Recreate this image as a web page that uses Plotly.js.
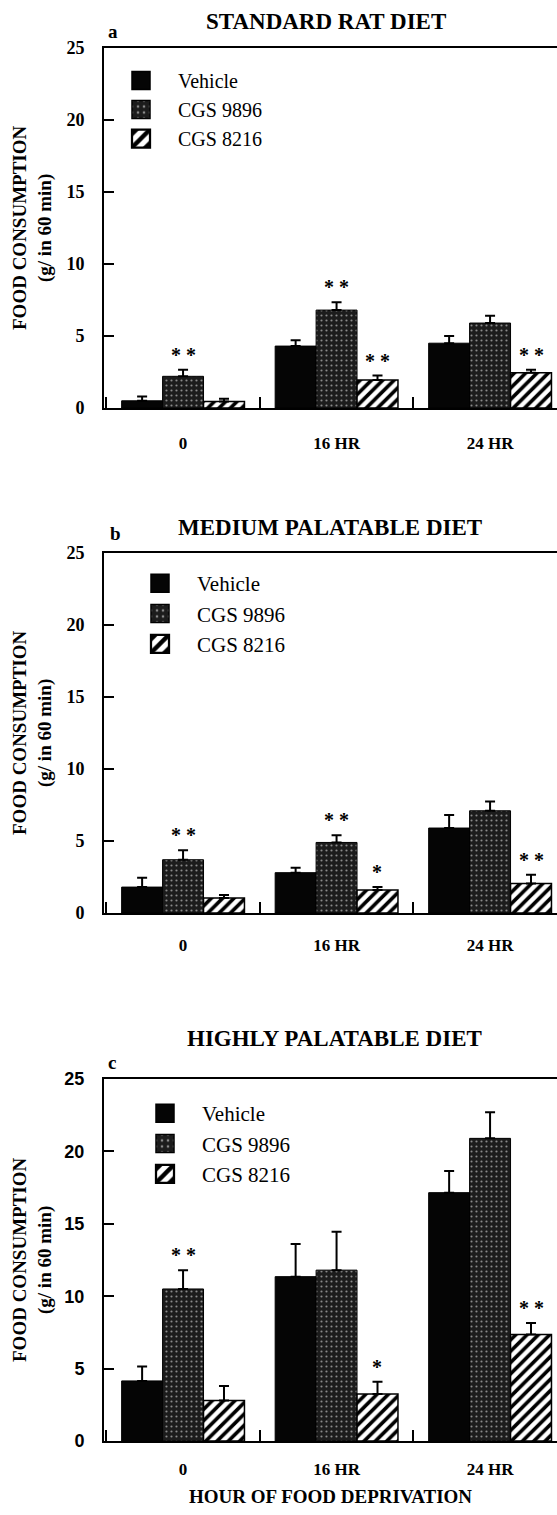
<!DOCTYPE html>
<html>
<head>
<meta charset="utf-8">
<script src="https://cdn.plot.ly/plotly-3.0.1.min.js"></script>
<style>
html,body{margin:0;padding:0;background:#fff;}
#chart{width:557px;height:1515px;}
#chart .legendtext{font-family:"Liberation Serif",serif !important;}
</style>
</head>
<body>
<div id="chart"></div>
<script>
// ---- data ----
const categories = ['0', '16 HR', '24 HR'];
const seriesNames = ['Vehicle', 'CGS 9896', 'CGS 8216'];
const panelTitles = ['STANDARD RAT DIET', 'MEDIUM PALATABLE DIET', 'HIGHLY PALATABLE DIET'];
const panelLetters = ['a', 'b', 'c'];
const yTickVals = [0, 5, 10, 15, 20, 25];
const yTitle = 'FOOD CONSUMPTION<br>(g/ in 60 min)';
const xTitle = 'HOUR OF FOOD DEPRIVATION';

// panel a : standard rat diet
const aVehicle = [0.5, 4.3, 4.5];
const aVehicleErr = [0.3, 0.4, 0.5];
const a9896 = [2.2, 6.8, 5.9];
const a9896Err = [0.45, 0.55, 0.5];
const a8216 = [0.45, 1.95, 2.45];
const a8216Err = [0.2, 0.3, 0.2];
const aSigVehicle = ['', '', ''];
const aSig9896 = ['**', '**', ''];
const aSig8216 = ['', '**', '**'];

// panel b : medium palatable diet
const bVehicle = [1.8, 2.8, 5.9];
const bVehicleErr = [0.65, 0.35, 0.9];
const b9896 = [3.7, 4.9, 7.1];
const b9896Err = [0.65, 0.5, 0.65];
const b8216 = [1.05, 1.6, 2.05];
const b8216Err = [0.2, 0.2, 0.6];
const bSigVehicle = ['', '', ''];
const bSig9896 = ['**', '**', ''];
const bSig8216 = ['', '*', '**'];

// panel c : highly palatable diet
const cVehicle = [4.15, 11.35, 17.15];
const cVehicleErr = [1.0, 2.25, 1.5];
const c9896 = [10.5, 11.8, 20.9];
const c9896Err = [1.3, 2.65, 1.8];
const c8216 = [2.8, 3.25, 7.35];
const c8216Err = [1.0, 0.85, 0.8];
const cSigVehicle = ['', '', ''];
const cSig9896 = ['**', '', ''];
const cSig8216 = ['', '*', '**'];

// ---- layout geometry (pixels) ----
const W = 557, H = 1515;
const plotLeft = 104, plotRight = 557;
const panels = [
  {vals: [aVehicle, a9896, a8216], errs: [aVehicleErr, a9896Err, a8216Err], sigs: [aSigVehicle, aSig9896, aSig8216],
   top: 48, bottom: 408, titleY: 22, letterY: 32, letterX: 113, titleX: 326, legX: 104, legY: 61, legSize: 20,
   legend: 'legend', tickFont: 'Liberation Serif', xStand: 19},
  {vals: [bVehicle, b9896, b8216], errs: [bVehicleErr, b9896Err, b8216Err], sigs: [bSigVehicle, bSig9896, bSig8216],
   top: 553, bottom: 913, titleY: 527, letterY: 533, letterX: 115, titleX: 330, legX: 123, legY: 563, legSize: 21,
   legend: 'legend2', tickFont: 'Liberation Serif', xStand: 16},
  {vals: [cVehicle, c9896, c8216], errs: [cVehicleErr, c9896Err, c8216Err], sigs: [cSigVehicle, cSig9896, cSig8216],
   top: 1079, bottom: 1441, titleY: 1038, letterY: 1062, letterX: 112, titleX: 334, legX: 128, legY: 1093, legSize: 21,
   legend: 'legend3', tickFont: 'Liberation Sans', xStand: 12}
];
const xRange = [-0.515, 2.436];
const bargap = 0.2;
const pxPerUnit = (plotRight - plotLeft) / (xRange[1] - xRange[0]);
const barPx = pxPerUnit * (1 - bargap) / 3;

const serif = 'Liberation Serif';
const markers = [
  {color: '#050505', line: {color: '#000', width: 1}},
  {color: '#1c1c1c', line: {color: '#000', width: 1},
   pattern: {shape: '.', fgcolor: '#8a8a8a', bgcolor: '#1c1c1c', size: 5, solidity: 0.15, fillmode: 'replace'}},
  {color: '#ffffff', line: {color: '#000', width: 1.5},
   pattern: {shape: '/', fgcolor: '#000', bgcolor: '#fff', size: 8, solidity: 0.45, fillmode: 'replace'}}
];

const traces = [];
const annotations = [];
const layout = {
  width: W, height: H,
  margin: {l: 0, r: 0, t: 0, b: 0},
  paper_bgcolor: '#fff', plot_bgcolor: '#fff',
  font: {family: serif, color: '#000'},
  barmode: 'group', bargap: bargap, bargroupgap: 0,
  showlegend: true,
  hovermode: false,
  annotations: annotations
};

const px2x = p => p / W;
const px2y = p => 1 - p / H;

panels.forEach((p, k) => {
  const sfx = k === 0 ? '' : String(k + 1);
  const xa = 'x' + sfx, ya = 'y' + sfx;
  for (let s = 0; s < 3; s++) {
    traces.push({
      type: 'bar', x: categories, y: p.vals[s], name: seriesNames[s],
      xaxis: xa, yaxis: ya, marker: markers[s], legend: p.legend,
      error_y: {type: 'data', symmetric: false, array: p.errs[s], arrayminus: p.errs[s].map(() => 0),
                color: '#000', thickness: 2, width: 5},
      hoverinfo: 'skip'
    });
    p.sigs[s].forEach((txt, i) => {
      if (!txt) return;
      annotations.push({
        x: categories[i], y: p.vals[s][i] + p.errs[s][i], xref: xa, yref: ya,
        text: txt.split('').join(' '), showarrow: false, yanchor: 'bottom',
        xshift: (s - 1) * barPx, yshift: 2,
        font: {family: serif, size: 20, color: '#000', weight: 700}
      });
    });
  }
  layout['xaxis' + sfx] = {
    domain: [px2x(plotLeft), px2x(plotRight)], anchor: ya, type: 'category',
    range: xRange, showline: true, linecolor: '#000', linewidth: 2, mirror: true,
    ticks: 'inside', tickson: 'boundaries', ticklen: 11, tickwidth: 2, tickcolor: '#000',
    ticklabelstandoff: p.xStand,
    tickfont: {family: serif, size: 17, color: '#000', weight: 700},
    showgrid: false, zeroline: false, fixedrange: true
  };
  layout['yaxis' + sfx] = {
    domain: [px2y(p.bottom), px2y(p.top)], anchor: xa,
    range: [0, 25], tickvals: yTickVals, ticktext: yTickVals.map(String),
    showline: true, linecolor: '#000', linewidth: 2,
    ticks: 'inside', ticklen: 10, tickwidth: 2, tickcolor: '#000',
    ticklabelstandoff: 14,
    tickfont: {family: p.tickFont, size: 18, color: '#000', weight: 700},
    showgrid: false, zeroline: false, fixedrange: true
  };
  layout[p.legend] = {
    x: px2x(p.legX), y: px2y(p.legY), xanchor: 'left', yanchor: 'top',
    bgcolor: 'rgba(0,0,0,0)', borderwidth: 0, itemwidth: 64,
    font: {family: serif, size: p.legSize, color: '#000'}, traceorder: 'normal'
  };
  annotations.push({
    x: px2x(p.titleX), y: px2y(p.titleY), xref: 'paper', yref: 'paper',
    text: panelTitles[k], showarrow: false, xanchor: 'center', yanchor: 'middle',
    font: {family: serif, size: 23, color: '#000', weight: 700}
  });
  annotations.push({
    x: px2x(p.letterX), y: px2y(p.letterY), xref: 'paper', yref: 'paper',
    text: panelLetters[k], showarrow: false, xanchor: 'center', yanchor: 'middle',
    font: {family: serif, size: 19, color: '#000', weight: 700}
  });
  annotations.push({
    x: px2x(32), y: px2y((p.top + p.bottom) / 2), xref: 'paper', yref: 'paper',
    text: yTitle, showarrow: false, textangle: -90, xanchor: 'center', yanchor: 'middle',
    font: {family: serif, size: 19, color: '#000', weight: 700}
  });
});

annotations.push({
  x: px2x(330), y: px2y(1496), xref: 'paper', yref: 'paper',
  text: xTitle, showarrow: false, xanchor: 'center', yanchor: 'middle',
  font: {family: serif, size: 19, color: '#000', weight: 700}
});

Plotly.newPlot('chart', traces, layout, {staticPlot: true, displayModeBar: false}).then(gd => {
  // enlarge the library-drawn legend swatches to match the printed key
  gd.querySelectorAll('.legendpoints path').forEach(el => {
    const t = el.getAttribute('transform') || '';
    el.setAttribute('transform', t + ' scale(1.5)');
  });
});
</script>
</body>
</html>
